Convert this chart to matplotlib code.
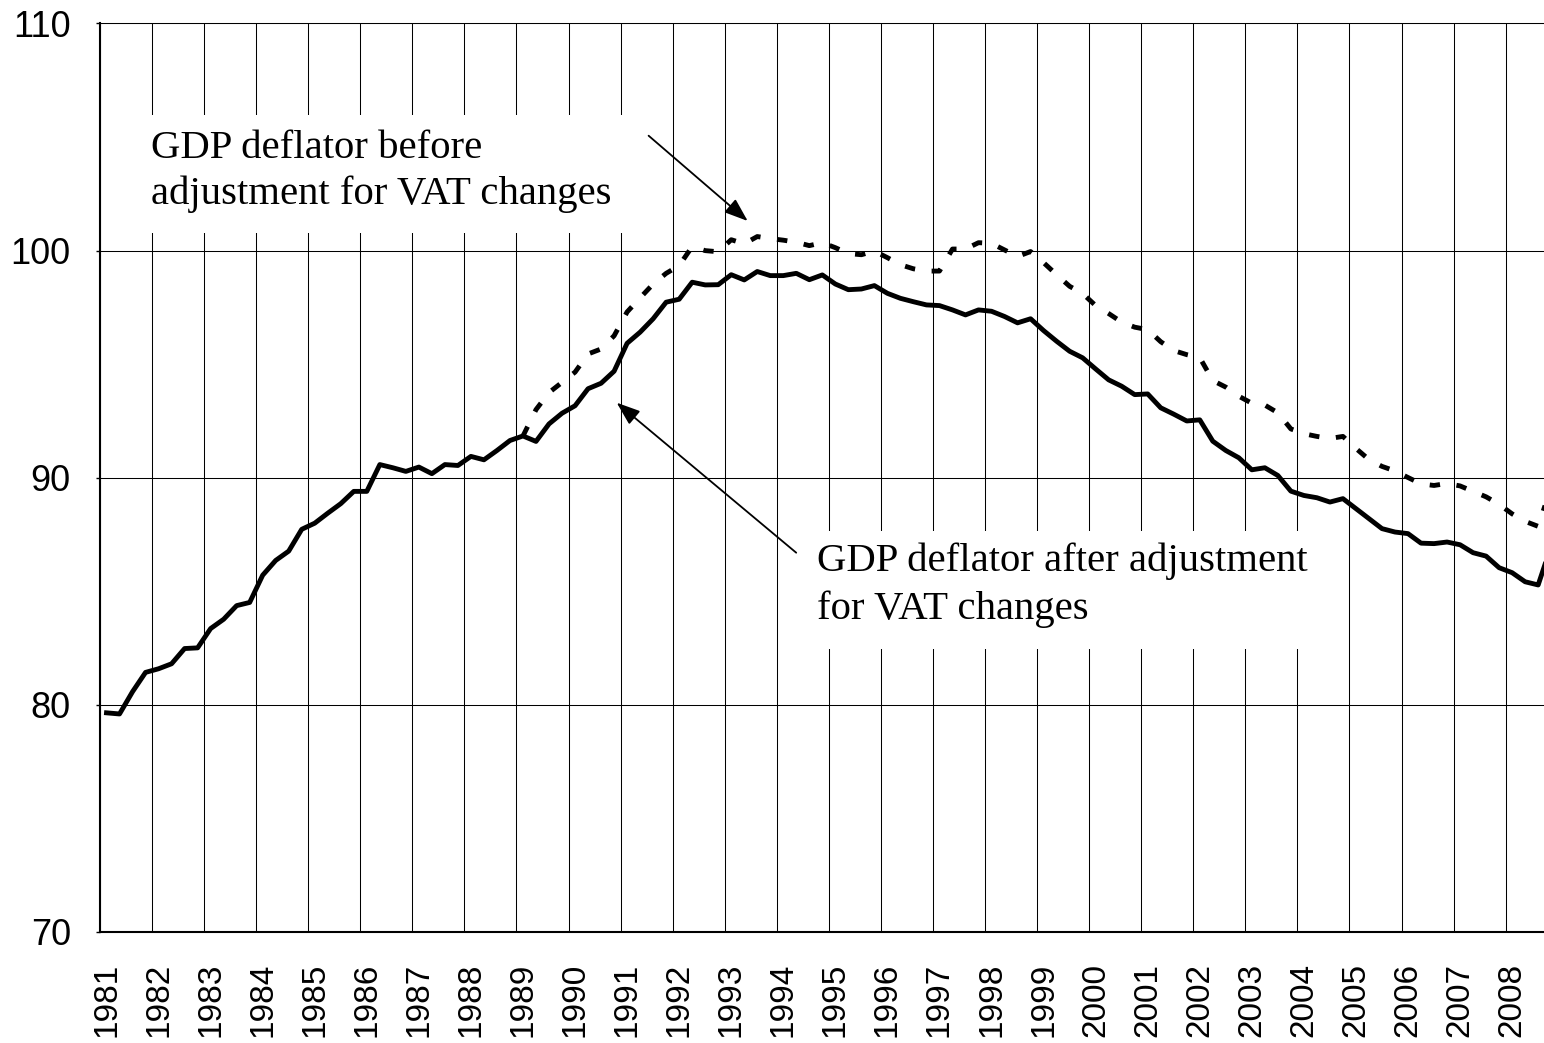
import matplotlib
matplotlib.use("Agg")
import matplotlib.pyplot as plt
from matplotlib.patches import Rectangle
import numpy as np

# quarterly GDP deflator, 1981Q1 - 2008Q4
years = list(range(1981, 2009))
after_vat = [
    79.65, 79.60, 80.58, 81.43, 81.59, 81.81, 82.48, 82.51, 83.36, 83.77,
    84.37, 84.51, 85.71, 86.36, 86.77, 87.73, 88.00, 88.44, 88.86, 89.40,
    89.40, 90.58, 90.44, 90.28, 90.47, 90.18, 90.58, 90.54, 90.94, 90.79,
    91.20, 91.64, 91.84, 91.60, 92.37, 92.84, 93.17, 93.92, 94.16, 94.69,
    95.92, 96.41, 97.00, 97.73, 97.86, 98.61, 98.49, 98.50, 98.94, 98.71,
    99.08, 98.90, 98.90, 99.00, 98.72, 98.93, 98.53, 98.28, 98.31, 98.46,
    98.12, 97.90, 97.75, 97.61, 97.58, 97.39, 97.17, 97.39, 97.33, 97.10,
    96.82, 97.00, 96.48, 96.01, 95.57, 95.28, 94.79, 94.31, 94.03, 93.66,
    93.69, 93.08, 92.80, 92.50, 92.55, 91.61, 91.20, 90.88, 90.35, 90.44,
    90.10, 89.41, 89.22, 89.12, 88.93, 89.08, 88.64, 88.20, 87.76, 87.61,
    87.54, 87.12, 87.10, 87.17, 87.05, 86.70, 86.55, 86.04, 85.82, 85.42,
    85.28, 87.00,
]
# before adjustment, from 1989Q1 on (identical to the adjusted series earlier)
before_start = 32
before_vat = [
    91.84, 93.00, 93.75, 94.20, 94.65, 95.45, 95.67, 96.25, 97.30, 97.92,
    98.53, 99.00, 99.34, 100.18, 100.00, 99.95, 100.48, 100.30, 100.62, 100.53,
    100.46, 100.37, 100.22, 100.35, 100.13, 99.87, 99.82, 99.98, 99.69, 99.38,
    99.20, 99.10, 99.10, 100.07, 100.07, 100.35, 100.32, 100.03, 99.74, 99.96,
    99.47, 98.94, 98.43, 98.11, 97.58, 97.23, 96.85, 96.63, 96.52, 95.99,
    95.60, 95.42, 95.29, 94.28, 93.99, 93.59, 93.28, 93.20, 92.86, 92.15,
    91.94, 91.82, 91.73, 91.82, 91.29, 90.80, 90.50, 90.30, 90.01, 89.73,
    89.66, 89.75, 89.64, 89.40, 89.16, 88.83, 88.41, 88.08, 87.86, 89.60,
]

plt.rcParams['lines.scale_dashes'] = False

W, H = 1544, 1043
fig = plt.figure(figsize=(W / 100, H / 100), dpi=100)
ax = fig.add_axes([100 / W, (H - 932) / H, 1 - 100 / W, (932 - 23.5) / H])

x_after = np.arange(len(after_vat))
x_before = np.arange(before_start, before_start + len(before_vat))

ax.plot(x_before, before_vat, color='black', lw=3.5, dashes=(7.5, 12),
        dash_capstyle='butt', zorder=3)
ax.plot(x_after, after_vat, color='black', lw=3.5, solid_joinstyle='round', zorder=4)

ax.set_xlim(-0.5, -0.5 + 1444 / 13.015)
ax.set_ylim(70, 110)
ax.set_yticks([70, 80, 90, 100, 110])

# labels sit on the first quarter of each year, gridlines on year boundaries
ax.set_xticks(np.arange(len(years)) * 4)
ax.set_xticklabels([str(y) for y in years], rotation=90, fontsize=24,
                   family='Liberation Sans')
ax.set_xticks(np.arange(len(years)) * 4 - 0.5, minor=True)
ax.tick_params(axis='x', which='both', length=0, pad=22)
ax.tick_params(axis='y', length=3, width=1, pad=18, labelsize=26)
for lab in ax.get_yticklabels():
    lab.set_family('Liberation Sans')

ax.grid(axis='x', which='minor', color='black', lw=0.75)
ax.grid(axis='y', which='major', color='black', lw=0.75)
ax.set_axisbelow(True)

ax.spines['right'].set_visible(False)
ax.spines['top'].set_linewidth(0.75)
ax.spines['left'].set_linewidth(1.5)
ax.spines['bottom'].set_linewidth(1.5)


def box(x0, y0, x1, y1):
    r = Rectangle((x0 / W, 1 - y1 / H), (x1 - x0) / W, (y1 - y0) / H,
                  transform=fig.transFigure, facecolor='white',
                  edgecolor='none', zorder=1.5)
    ax.add_patch(r)


box(138, 115, 632, 233)
box(800, 531, 1320, 649)

tfont = dict(family='Liberation Serif', fontsize=29.3, color='black')
fig.text(150.8 / W, 1 - 158.3 / H, 'GDP deflator before', va='baseline', **tfont)
fig.text(150.8 / W, 1 - 204.0 / H, 'adjustment for VAT changes', va='baseline', **tfont)
fig.text(816.7 / W, 1 - 570.7 / H, 'GDP deflator after adjustment', va='baseline', **tfont)
fig.text(816.7 / W, 1 - 619.3 / H, 'for VAT changes', va='baseline', **tfont)

aprops = dict(arrowstyle='-|>,head_length=0.6,head_width=0.22', color='black',
              lw=1.3, shrinkA=0, shrinkB=0, mutation_scale=24)
ax.annotate('', xy=(747.7, H - 221), xytext=(648.6, H - 135.7),
            xycoords='figure pixels', textcoords='figure pixels', arrowprops=aprops)
ax.annotate('', xy=(616.7, H - 402.7), xytext=(796.2, H - 552.7),
            xycoords='figure pixels', textcoords='figure pixels', arrowprops=aprops)

fig.savefig('out.png', dpi=100)
